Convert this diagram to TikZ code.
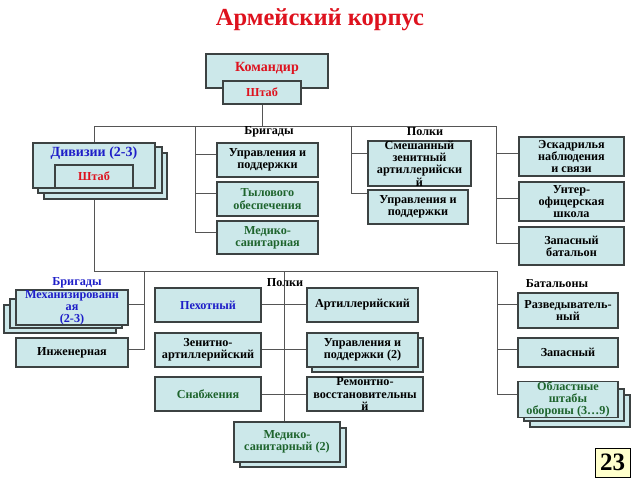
\documentclass[tikz,border=0pt]{standalone}
\usepackage{fontspec}
\setmainfont{Liberation Serif}
\definecolor{boxfill}{RGB}{204,232,234}
\definecolor{boxline}{RGB}{60,66,66}
\definecolor{connc}{RGB}{85,85,85}
\definecolor{tred}{RGB}{222,18,30}
\definecolor{tblue}{RGB}{30,30,200}
\definecolor{tgreen}{RGB}{30,100,45}
\definecolor{pagefill}{RGB}{255,255,204}
\newcommand\BX[7]{\node[box,#6,minimum width={(#4)-(#2)},minimum height={(#5)-(#3)}] (#1) at ({((#2)+(#4))/2},{((#3)+(#5))/2}) {#7};}
\tikzset{
  box/.style={draw=boxline,fill=boxfill,line width=1.1pt,inner sep=0pt,align=center,
    font=\fontsize{12.2}{12.2}\selectfont\bfseries},
  conn/.style={draw=connc,line width=1pt},
  lbl/.style={inner sep=0pt,align=center,font=\fontsize{12.2}{12.2}\selectfont\bfseries},
  biglbl/.style={inner sep=0pt,align=center,font=\fontsize{14}{14}\selectfont\bfseries},
}
\begin{document}
\begin{tikzpicture}[x=1pt,y=-1pt]
\useasboundingbox (0,0) rectangle (640,480);
\node[inner sep=0pt,text=tred,font=\fontsize{24.5}{26}\selectfont\bfseries] (title) at (320,20) {Армейский корпус};
% bus coordinates
\coordinate (busL) at (94,126);
\coordinate (busBr) at (195,126);
\coordinate (busPl) at (351,126);
\coordinate (busR) at (496,126);
\coordinate (lowL) at (94,271);
\coordinate (lowB) at (144,271);
\coordinate (lowC) at (284,271);
\coordinate (lowR) at (497,271);
% ---- connectors ----
\draw[conn] (262,104) coordinate (shS) -- (shS |- busL);
\draw[conn] (busL) -- (busR);
\draw[conn] (busL) -- (94,143) coordinate (divTop);
\draw[conn] (busBr) |- (217,154) coordinate (t1);
\draw[conn] (busBr) |- (217,193) coordinate (t2);
\draw[conn] (busBr) |- (217,232) coordinate (t3);
\draw[conn] (busPl) |- (368,153) coordinate (t4);
\draw[conn] (busPl) |- (368,193) coordinate (t5);
\draw[conn] (busR) |- (519,153) coordinate (t6);
\draw[conn] (busR) |- (519,198) coordinate (t7);
\draw[conn] (busR) |- (519,243) coordinate (t8);
\draw[conn] (94,199) coordinate (divBot) -- (lowL) -- (lowR);
\draw[conn] (lowB) |- (128,304) coordinate (t9);
\draw[conn] (lowB) |- (128,349) coordinate (t10);
\draw[conn] (lowC) -- (284,422) coordinate (medTop);
\draw[conn] (261,304) coordinate (t11) -- (307,304) coordinate (t12);
\draw[conn] (261,349) coordinate (t13) -- (307,349) coordinate (t14);
\draw[conn] (261,394) coordinate (t15) -- (307,394) coordinate (t16);
\draw[conn] (lowR) |- (518,304) coordinate (t17);
\draw[conn] (lowR) |- (518,349) coordinate (t18);
\draw[conn] (lowR) |- (518,394) coordinate (t19);
% ---- top ----
\BX{cmd}{206}{54}{328}{88}{}{}
\node[biglbl,text=tred] (cmdt) at (267,68) {Командир};
\BX{shtab}{223}{81}{301}{104}{text=tred}{Штаб}
% divisions
\BX{divC}{44}{153}{167}{199}{}{}
\BX{divB}{38}{147}{162}{193}{}{}
\BX{divA}{33}{143}{155}{188}{}{}
\node[biglbl,text=tblue] (divt) at (94,153) {Дивизии (2-3)};
\BX{divsh}{55}{165}{133}{188}{text=tred}{Штаб}
% brigades
\node[lbl] (brl) at (269,132) {Бригады};
\BX{br1}{217}{143}{318}{177}{}{Управления и\\поддержки}
\BX{br2}{217}{182}{318}{216}{text=tgreen}{Тылового\\обеспечения}
\BX{br3}{217}{221}{318}{254}{text=tgreen}{Медико-\\санитарная}
% regiments
\node[lbl] (pll) at (425,132) {Полки};
\BX{pl1}{368}{143}{471}{184}{}{Смешанный\\зенитный\\артиллерийски\\й}
\BX{pl2}{368}{190}{468}{224}{}{Управления и\\поддержки}
% right
\BX{r1}{519}{137}{624}{176}{}{Эскадрилья\\наблюдения\\и связи}
\BX{r2}{519}{182}{624}{221}{}{Унтер-\\офицерская\\школа}
\BX{r3}{519}{227}{624}{265}{}{Запасный\\батальон}
% ---- lower left ----
\node[lbl,text=tblue] (brl2) at (77,283) {Бригады};
\BX{mechC}{4}{305}{116}{333}{}{}
\BX{mechB}{10}{299}{122}{328}{}{}
\BX{mechA}{16}{293}{128}{322}{text=tblue}{Механизированн\\ая\\(2-3)}
\BX{inzh}{16}{338}{128}{367}{}{Инженерная}
% center
\node[lbl] (pll2) at (285,283) {Полки};
\BX{c1}{155}{288}{261}{322}{text=tblue}{Пехотный}
\BX{c2}{155}{333}{261}{367}{}{Зенитно-\\артиллерийский}
\BX{c3}{155}{377}{261}{411}{text=tgreen}{Снабжения}
\BX{c4}{307}{288}{418}{322}{}{Артиллерийский}
\BX{c5b}{312}{338}{423}{372}{}{}
\BX{c5}{307}{333}{418}{367}{}{Управления и\\поддержки (2)}
\BX{c6}{307}{377}{423}{411}{}{Ремонтно-\\восстановительны\\й}
\BX{medB}{240}{428}{346}{467}{}{}
\BX{med}{234}{422}{340}{462}{text=tgreen}{Медико-\\санитарный (2)}
% battalions
\node[lbl] (batl) at (557,284) {Батальоны};
\BX{b1}{518}{293}{618}{328}{}{Разведыватель-\\ный}
\BX{b2}{518}{338}{618}{367}{}{Запасный}
\BX{b3C}{530}{395}{630}{427}{}{}
\BX{b3B}{524}{389}{624}{421}{}{}
\BX{b3}{518}{383}{618}{416}{text=tgreen}{Областные\\штабы\\обороны (3…9)}
% page number
\node[draw=black,fill=pagefill,line width=1pt,minimum width=35,minimum height=29,inner sep=0pt,font=\fontsize{25}{26}\selectfont\bfseries] (pg) at (612.5,462.5) {23};
\end{tikzpicture}
\end{document}
